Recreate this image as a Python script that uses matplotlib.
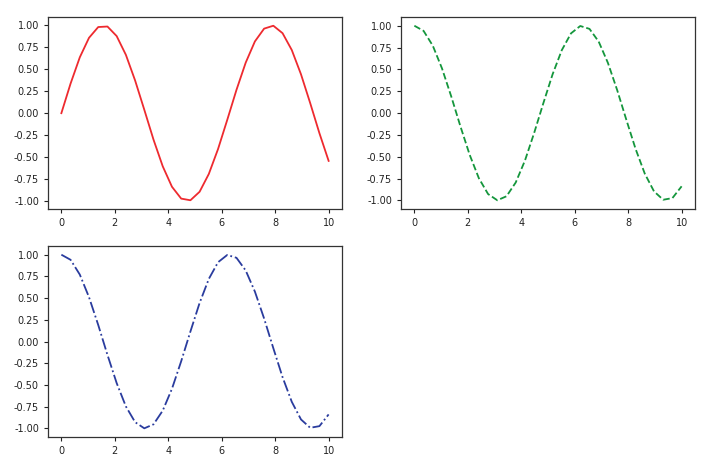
import matplotlib
matplotlib.use("Agg")
import matplotlib.pyplot as plt

x = [0.0, 0.345, 0.690, 1.034, 1.379, 1.724, 2.069, 2.414, 2.759, 3.103,
     3.448, 3.793, 4.138, 4.483, 4.828, 5.172, 5.517, 5.862, 6.207, 6.552,
     6.897, 7.241, 7.586, 7.931, 8.276, 8.621, 8.966, 9.310, 9.655, 10.0]

sin_vals = [0.0, 0.338, 0.637, 0.859, 0.982, 0.988, 0.879, 0.665, 0.373, 0.039,
            -0.302, -0.606, -0.839, -0.974, -0.993, -0.896, -0.693, -0.409, -0.076, 0.266,
            0.576, 0.818, 0.964, 0.997, 0.912, 0.720, 0.443, 0.115, -0.228, -0.544]

cos_vals = [1.0, 0.941, 0.771, 0.511, 0.191, -0.153, -0.478, -0.747, -0.928, -0.999,
            -0.953, -0.795, -0.544, -0.227, 0.115, 0.444, 0.721, 0.913, 0.997, 0.964,
            0.818, 0.575, 0.265, -0.077, -0.410, -0.694, -0.897, -0.993, -0.974, -0.839]

yticks = [-1.00, -0.75, -0.50, -0.25, 0.00, 0.25, 0.50, 0.75, 1.00]
xticks = [0, 2, 4, 6, 8, 10]

fig = plt.figure(figsize=(7.12, 4.69), dpi=100)
W, H = 712, 469

def make_ax(l, r, t, b):
    return fig.add_axes([l / W, 1 - b / H, (r - l) / W, (b - t) / H])

ax1 = make_ax(48, 342, 17, 209)
ax2 = make_ax(401, 695, 17, 209)
ax3 = make_ax(48, 342, 246, 437)

ax1.plot(x, sin_vals, color="#ee2a2f", linestyle="-", linewidth=1.3)
ax2.plot(x, cos_vals, color="#14963c", linestyle="--", linewidth=1.3)
ax3.plot(x, cos_vals, color="#2a3c9e", linestyle="-.", linewidth=1.3)

for ax in (ax1, ax2, ax3):
    ax.set_yticks(yticks)
    ax.set_yticklabels([f"{v:.2f}" for v in yticks])
    ax.set_xticks(xticks)
    ax.tick_params(labelsize=7, length=3, width=0.8, colors="#222222")
    for s in ax.spines.values():
        s.set_color("#333333")
        s.set_linewidth(0.9)

fig.savefig("out.png", dpi=100)
